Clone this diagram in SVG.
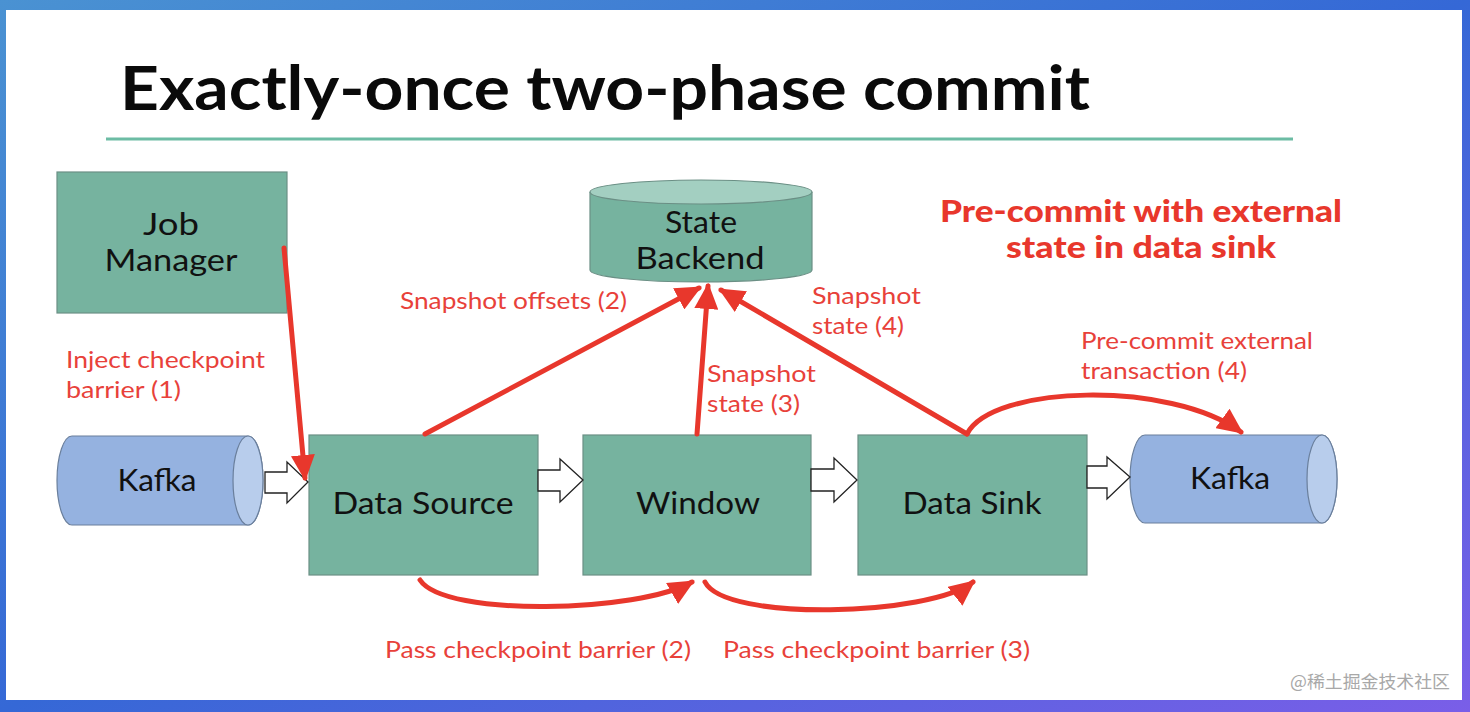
<svg xmlns="http://www.w3.org/2000/svg" width="1470" height="712" viewBox="0 0 1470 712">
<defs>
<linearGradient id="frame" x1="0" y1="0" x2="1" y2="1">
<stop offset="0" stop-color="#4a92d2"/>
<stop offset="0.5" stop-color="#3568d6"/>
<stop offset="1" stop-color="#7a5ee8"/>
</linearGradient>
<marker id="ah" markerUnits="userSpaceOnUse" markerWidth="28" markerHeight="24" refX="23" refY="12" orient="auto">
<path d="M0,0 L26,12 L0,24 Z" fill="#e8372c"/>
</marker>
<style>
.box{fill:#76b39f;stroke:#6b8f85;stroke-width:1.2}
.cyl{fill:#95b2e0;stroke:#6a7f9c;stroke-width:1.2}
.cap{fill:#b8cdec;stroke:#6a7f9c;stroke-width:1.2}
.hollow{fill:#ffffff;stroke:#222;stroke-width:1.3}
.red{fill:none;stroke:#e8372c;stroke-width:5;stroke-linecap:round;marker-end:url(#ah)}
.nt{font-family:Lato,"Open Sans","Liberation Sans",sans-serif;font-size:31px;fill:#111;text-anchor:middle}
.lb{font-family:Lato,"Open Sans","Liberation Sans",sans-serif;font-size:22.5px;fill:#e8413a}
.hd{font-family:Lato,"Open Sans","Liberation Sans",sans-serif;font-weight:900;font-size:30px;fill:#e8372c;text-anchor:middle}
</style>
</defs>
<rect x="0" y="0" width="1470" height="712" fill="url(#frame)"/>
<rect x="6" y="10" width="1456" height="690" fill="#ffffff"/>
<text x="120" y="110" font-family="Lato,'Open Sans','Liberation Sans',sans-serif" font-weight="700" font-size="62" fill="#0a0a0a" textLength="970" lengthAdjust="spacingAndGlyphs">Exactly-once two-phase commit</text>
<line x1="106" y1="139" x2="1293" y2="139" stroke="#6cbca4" stroke-width="3"/>

<g id="job-manager">
<rect class="box" x="57" y="172" width="230" height="141"/>
<text class="nt" x="171" y="235" textLength="56" lengthAdjust="spacingAndGlyphs">Job</text>
<text class="nt" x="171" y="271" textLength="133" lengthAdjust="spacingAndGlyphs">Manager</text>
</g>

<g id="kafka-in">
<path class="cyl" d="M72,436 H248 A15,44.5 0 0 1 248,525 H72 A15,44.5 0 0 1 72,436 Z"/>
<ellipse class="cap" cx="248" cy="480.5" rx="15" ry="44.5"/>
<text class="nt" x="157" y="491" textLength="79" lengthAdjust="spacingAndGlyphs">Kafka</text>
</g>

<g id="data-source">
<rect class="box" x="309" y="435" width="229" height="140"/>
<text class="nt" x="423" y="514" textLength="181" lengthAdjust="spacingAndGlyphs">Data Source</text>
</g>

<g id="window">
<rect class="box" x="583" y="435" width="228" height="140"/>
<text class="nt" x="698" y="514" textLength="124" lengthAdjust="spacingAndGlyphs">Window</text>
</g>

<g id="data-sink">
<rect class="box" x="858" y="435" width="229" height="140"/>
<text class="nt" x="972" y="514" textLength="139" lengthAdjust="spacingAndGlyphs">Data Sink</text>
</g>

<g id="kafka-out">
<path class="cyl" d="M1145,435 H1322 A15,44 0 0 1 1322,523 H1145 A15,44 0 0 1 1145,435 Z"/>
<ellipse class="cap" cx="1322" cy="479" rx="15" ry="44"/>
<text class="nt" x="1230" y="489" textLength="80" lengthAdjust="spacingAndGlyphs">Kafka</text>
</g>

<g id="state-backend">
<path d="M590,192 V270 A111,12 0 0 0 812,270 V192" fill="#76b39f" stroke="#6b8f85" stroke-width="1.2"/>
<ellipse cx="701" cy="192" rx="111" ry="12" fill="#a3cfc1" stroke="#6b8f85" stroke-width="1.2"/>
<text class="nt" x="701" y="233" textLength="72" lengthAdjust="spacingAndGlyphs">State</text>
<text class="nt" x="700" y="269" textLength="129" lengthAdjust="spacingAndGlyphs">Backend</text>
</g>

<g id="connectors">
<polygon class="hollow" points="265,472 287,472 287,462 308,482 287,503 287,493 265,493"/>
<polygon class="hollow" points="538,470 560,470 560,459 583,480 560,502 560,491 538,491"/>
<polygon class="hollow" points="811,469 834,469 834,458 857,480 834,502 834,491 811,491"/>
<polygon class="hollow" points="1087,466 1107,466 1107,457 1130,477 1107,499 1107,488 1087,488"/>
<path class="red" d="M284,248 L305,478"/>
<path class="red" d="M425,434 L699,288"/>
<path class="red" d="M697,434 L708,286"/>
<path class="red" d="M967,434 L721,290"/>
<path class="red" d="M967,434 C992,385 1170,380 1241,432"/>
<path class="red" d="M420,580 C445,618 640,612 692,582"/>
<path class="red" d="M705,582 C725,622 930,616 973,582"/>
</g>

<g id="labels">
<text class="lb" x="66" y="368" textLength="199" lengthAdjust="spacingAndGlyphs">Inject checkpoint</text>
<text class="lb" x="66" y="398" textLength="115" lengthAdjust="spacingAndGlyphs">barrier (1)</text>
<text class="lb" x="400" y="309" textLength="227" lengthAdjust="spacingAndGlyphs">Snapshot offsets (2)</text>
<text class="lb" x="707" y="382" textLength="109" lengthAdjust="spacingAndGlyphs">Snapshot</text>
<text class="lb" x="707" y="412" textLength="93" lengthAdjust="spacingAndGlyphs">state (3)</text>
<text class="lb" x="812" y="304" textLength="109" lengthAdjust="spacingAndGlyphs">Snapshot</text>
<text class="lb" x="812" y="334" textLength="92" lengthAdjust="spacingAndGlyphs">state (4)</text>
<text class="lb" x="1081" y="349" textLength="232" lengthAdjust="spacingAndGlyphs">Pre-commit external</text>
<text class="lb" x="1081" y="379" textLength="166" lengthAdjust="spacingAndGlyphs">transaction (4)</text>
<text class="lb" x="385" y="658" textLength="306" lengthAdjust="spacingAndGlyphs">Pass checkpoint barrier (2)</text>
<text class="lb" x="723" y="658" textLength="307" lengthAdjust="spacingAndGlyphs">Pass checkpoint barrier (3)</text>
<text class="hd" x="1141" y="222" textLength="402" lengthAdjust="spacingAndGlyphs">Pre-commit with external</text>
<text class="hd" x="1141" y="258" textLength="270" lengthAdjust="spacingAndGlyphs">state in data sink</text>
</g>
<text x="1290" y="688" font-family="'Noto Sans CJK SC','Noto Sans',sans-serif" font-size="17.5" fill="#a8a8a8" textLength="160" lengthAdjust="spacingAndGlyphs">@稀土掘金技术社区</text>
</svg>
